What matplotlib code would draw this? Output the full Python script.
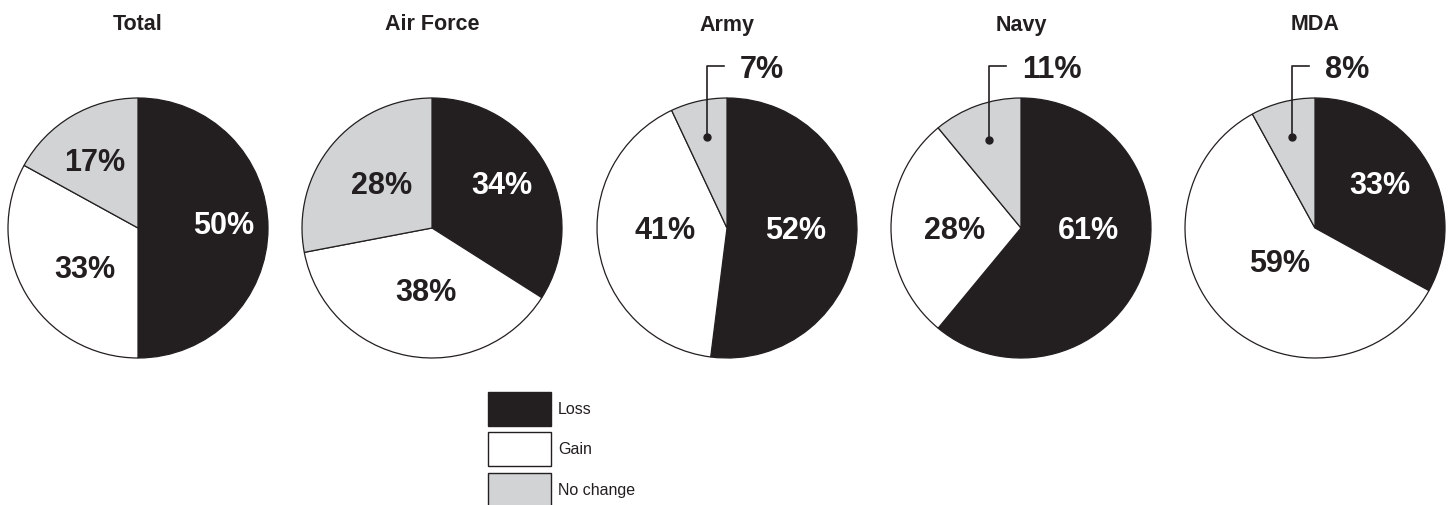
import matplotlib.pyplot as plt
import numpy as np
from matplotlib.patches import Rectangle

plt.rcParams['font.family'] = ['Liberation Sans', 'DejaVu Sans']

black = '#231f20'
white = '#ffffff'
gray = '#d1d3d4'
colors = [black, white, gray]
conditions = ['Loss', 'Gain', 'No change']

services = ['Total', 'Air Force', 'Army', 'Navy', 'MDA']
loss = [50, 34, 52, 61, 33]
gain = [33, 38, 41, 28, 59]
no_change = [17, 28, 7, 11, 8]

# label offsets inside the pie, in radius units (None = callout above the pie)
label_pos = [
    [(0.66, 0.04), (-0.41, -0.30), (-0.33, 0.52)],
    [(0.54, 0.35), (-0.05, -0.48), (-0.39, 0.35)],
    [(0.53, 0.0), (-0.48, 0.0), None],
    [(0.52, 0.0), (-0.51, 0.0), None],
    [(0.50, 0.35), (-0.27, -0.25), None],
]

W, H = 1456, 505
fig = plt.figure(figsize=(14.56, 5.05), dpi=100)
ax = fig.add_axes([0, 0, 1, 1])

centers_x = [138, 432, 727, 1021, 1315]
cy = H - 228
R = 130

for i, name in enumerate(services):
    vals = [loss[i], gain[i], no_change[i]]
    cx = centers_x[i]
    wedges, _ = ax.pie(vals, colors=colors, startangle=90, counterclock=False,
                       center=(cx, cy), radius=R,
                       wedgeprops={'edgecolor': black, 'linewidth': 0.9})
    ax.text(cx, H - 25, name, ha='center', va='center', fontsize=15.5, fontweight='bold', color=black)
    for j, v in enumerate(vals):
        pos = label_pos[i][j]
        if pos is not None:
            tc = white if j == 0 else black
            ax.text(cx + pos[0] * R, cy + pos[1] * R - 3, f'{v}%', ha='center', va='center',
                    fontsize=22, fontweight='bold', color=tc)
        else:
            # callout for the thin slice
            w = wedges[j]
            mid = np.deg2rad((w.theta1 + w.theta2) / 2)
            dx, dy = cx + 0.72 * R * np.cos(mid), cy + 0.72 * R * np.sin(mid)
            top = cy + 1.246 * R
            ax.plot([dx, dx, dx + 17], [dy, top, top], color=black, lw=1.2)
            ax.plot(dx, dy, 'o', color=black, ms=5)
            ax.text(dx + 33, top - 4, f'{v}%', ha='left', va='center',
                    fontsize=22, fontweight='bold', color=black)

# legend boxes
box_x, box_w, box_h = 488, 63, 34
box_tops = [392, 432, 473]
for c, lab, t in zip(colors, conditions, box_tops):
    ax.add_patch(Rectangle((box_x, H - t - box_h), box_w, box_h, facecolor=c,
                           edgecolor=black, linewidth=1.0))
    ax.text(box_x + box_w + 7, H - t - box_h / 2, lab, ha='left', va='center', fontsize=11.5, color=black)

ax.set_xlim(0, W)
ax.set_ylim(0, H)
ax.set_aspect('equal')
ax.axis('off')

fig.savefig('out.png', dpi=100)
